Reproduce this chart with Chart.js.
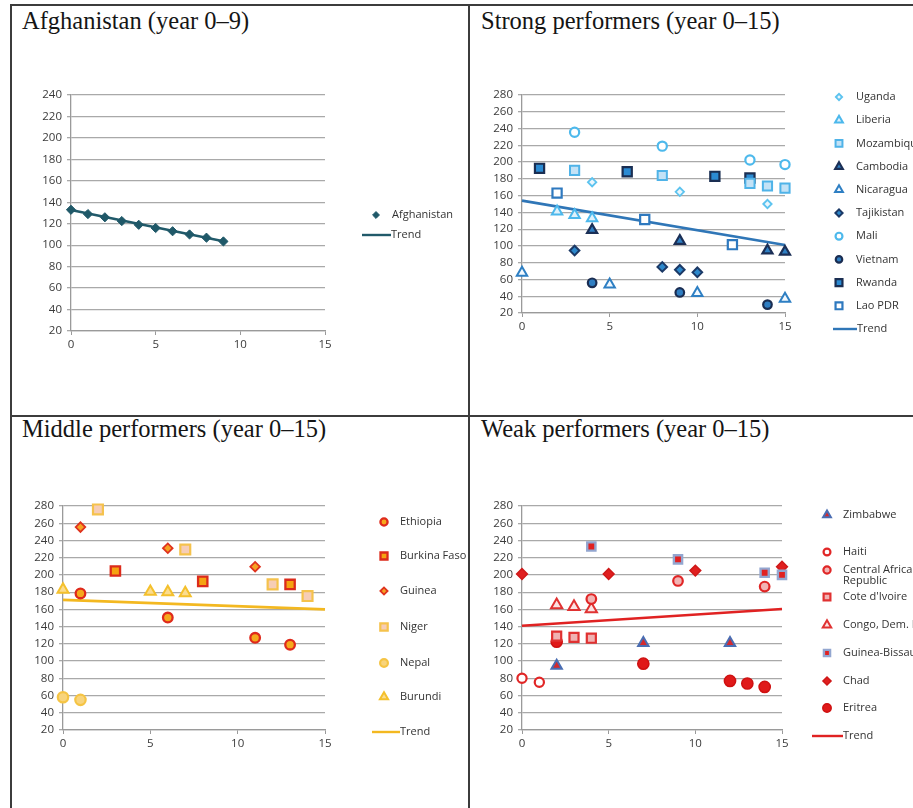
<!DOCTYPE html>
<html>
<head>
<meta charset="utf-8">
<script src="https://cdn.jsdelivr.net/npm/chart.js@4.4.1/dist/chart.umd.min.js"></script>
<style>
body { margin: 0; width: 913px; height: 808px; overflow: hidden; background: #fff; position: relative; }
.rule { position: absolute; background: #3c3c3c; }
.title { position: absolute; font-family: "Liberation Serif", "Times New Roman", serif; font-size: 24.5px; line-height: 24.5px; color: #151515; white-space: nowrap; }
canvas { position: absolute; }
</style>
</head>
<body>
<div class="rule" style="left:10px;top:4px;width:2px;height:820px"></div>
<div class="rule" style="left:10px;top:4px;width:920px;height:2px"></div>
<div class="rule" style="left:468px;top:4px;width:2px;height:820px"></div>
<div class="rule" style="left:10px;top:415px;width:920px;height:2px"></div>

<div class="title" style="left:22px;top:9px">Afghanistan (year 0–9)</div>
<div class="title" style="left:481px;top:9px">Strong performers (year 0–15)</div>
<div class="title" style="left:22px;top:417px">Middle performers (year 0–15)</div>
<div class="title" style="left:481px;top:417px">Weak performers (year 0–15)</div>

<canvas id="afghan"></canvas>
<canvas id="strong"></canvas>
<canvas id="middle"></canvas>
<canvas id="weak"></canvas>

<script>
// ---- data ----
const xTicks = [0, 5, 10, 15];

// Afghanistan
const afghanYears = [0, 1, 2, 3, 4, 5, 6, 7, 8, 9];
const afghanValues = [133, 129, 126, 122.5, 119, 116, 113, 110, 107, 103.5];
const afghanTrendX = [0, 9];
const afghanTrendY = [132.8, 103.6];

// Strong performers
const strongLabels = ['Uganda', 'Liberia', 'Mozambique', 'Cambodia', 'Nicaragua', 'Tajikistan', 'Mali', 'Vietnam', 'Rwanda', 'Lao PDR', 'Trend'];
const ugandaX = [4, 9, 14];          const ugandaY = [176, 164.5, 150];
const liberiaX = [2, 3, 4];          const liberiaY = [141, 137, 133];
const mozambiqueX = [3, 8, 13, 14, 15]; const mozambiqueY = [190, 184, 174.5, 171.5, 169];
const cambodiaX = [4, 9, 14, 15];    const cambodiaY = [119, 106, 94.5, 93];
const nicaraguaX = [0, 5, 10, 15];   const nicaraguaY = [68, 54, 44, 37];
const tajikistanX = [3, 8, 9, 10];   const tajikistanY = [94.5, 75, 71.5, 68.5];
const maliX = [3, 8, 13, 15];        const maliY = [235.5, 219, 202.5, 197];
const vietnamX = [4, 9, 14];         const vietnamY = [56, 44.5, 30];
const rwandaX = [1, 6, 11, 13];      const rwandaY = [192.5, 188.5, 183, 181];
const laoX = [2, 7, 12];             const laoY = [163, 131.5, 101.5];
const strongTrendX = [0, 15];        const strongTrendY = [154, 101];

// Middle performers
const middleLabels = ['Ethiopia', 'Burkina Faso', 'Guinea', 'Niger', 'Nepal', 'Burundi', 'Trend'];
const ethiopiaX = [1, 6, 11, 13];    const ethiopiaY = [178.5, 150.5, 127, 119];
const burkinaX = [3, 8, 13];         const burkinaY = [204.5, 192.5, 189];
const guineaX = [1, 6, 11];          const guineaY = [255.5, 231, 209.5];
const nigerX = [2, 7, 12, 14];       const nigerY = [276, 229.5, 189, 175.5];
const nepalX = [0, 1];               const nepalY = [58, 55];
const burundiX = [0, 5, 6, 7];       const burundiY = [183, 180.5, 180, 179];
const middleTrendX = [0, 15];        const middleTrendY = [171, 160];

// Weak performers
const weakLabels = ['Zimbabwe', 'Haiti', 'Central African\nRepublic', "Cote d'Ivoire", 'Congo, Dem. Rep.', 'Guinea-Bissau', 'Chad', 'Eritrea', 'Trend'];
const zimbabweX = [2, 7, 12];        const zimbabweY = [94.5, 121, 121];
const haitiX = [0, 1];               const haitiY = [80, 75.5];
const carX = [4, 9, 14];             const carY = [172, 193, 186.5];
const coteX = [2, 3, 4];             const coteY = [129, 127.5, 126.5];
const congoX = [2, 3, 4];            const congoY = [165, 163, 160.5];
const guineaBissauX = [4, 9, 14, 15]; const guineaBissauY = [233, 218, 202.5, 200];
const chadX = [0, 5, 10, 15];        const chadY = [201, 201, 205, 209.5];
const eritreaX = [2, 7, 12, 13, 14]; const eritreaY = [122.5, 97, 77, 74, 70];
const weakTrendX = [0, 15];          const weakTrendY = [141, 160.5];

// ---- helpers ----
function pts(xs, ys) {
    return xs.map((x, i) => ({ x: x, y: ys[i] }));
}

function marker(label, xs, ys, style, bg, border, radius, bw) {
    return {
        label: label,
        data: pts(xs, ys),
        pointStyle: style,
        backgroundColor: bg,
        borderColor: border,
        pointRadius: radius,
        pointHoverRadius: radius,
        pointBorderWidth: bw || 2,
        showLine: false,
        clip: false
    };
}

function trend(xs, ys, color) {
    return {
        label: 'Trend',
        data: pts(xs, ys),
        borderColor: color,
        backgroundColor: color,
        borderWidth: 2.6,
        pointRadius: 0,
        showLine: true,
        isTrend: true,
        clip: false
    };
}

// legend drawn next to the plot, like the spreadsheet one
const panelLegend = {
    id: 'panelLegend',
    afterDraw(chart, args, opts) {
        if (!opts.ys) return;
        const ctx = chart.ctx;
        ctx.save();
        ctx.font = '11px "Open Sans", sans-serif';
        ctx.textBaseline = 'middle';
        chart.data.datasets.forEach((ds, i) => {
            const y = opts.ys[i];
            if (ds.isTrend) {
                ctx.strokeStyle = ds.borderColor;
                ctx.lineWidth = 2.4;
                ctx.beginPath();
                ctx.moveTo(opts.lineX0, y);
                ctx.lineTo(opts.lineX1, y);
                ctx.stroke();
            } else {
                ctx.fillStyle = ds.backgroundColor;
                ctx.strokeStyle = ds.borderColor;
                ctx.lineWidth = ds.pointBorderWidth;
                Chart.helpers.drawPoint(ctx, {
                    pointStyle: ds.pointStyle,
                    radius: ds.pointRadius * 0.75,
                    rotation: 0,
                    borderWidth: ds.pointBorderWidth
                }, opts.markerX, y);
            }
            ctx.fillStyle = '#333';
            const tx = ds.isTrend ? opts.lineX1 : opts.textX;
            ds.label.split('\n').forEach((line, k) => {
                ctx.fillText(line, tx, y + k * 11);
            });
        });
        ctx.restore();
    }
};

function makePanel(id, frame, plot, yMax, datasets, legend) {
    const canvas = document.getElementById(id);
    canvas.width = frame.w;
    canvas.height = frame.h;
    canvas.style.left = frame.l + 'px';
    canvas.style.top = frame.t + 'px';

    const yAxisW = 42;
    const xAxisH = 24;
    const ox = frame.l, oy = frame.t;

    new Chart(canvas.getContext('2d'), {
        type: 'scatter',
        data: { datasets: datasets },
        options: {
            responsive: false,
            animation: false,
            events: [],
            layout: {
                padding: {
                    left: plot.l - ox - yAxisW,
                    top: plot.t - oy,
                    right: ox + frame.w - plot.r,
                    bottom: oy + frame.h - plot.b - xAxisH
                }
            },
            plugins: {
                legend: { display: false },
                tooltip: { enabled: false },
                panelLegend: {
                    ys: legend.ys.map(v => v - oy),
                    markerX: legend.markerX - ox,
                    textX: legend.textX - ox,
                    lineX0: legend.lineX0 - ox,
                    lineX1: legend.lineX1 - ox
                }
            },
            scales: {
                x: {
                    type: 'linear',
                    min: 0,
                    max: 15,
                    afterBuildTicks: s => { s.ticks = xTicks.map(v => ({ value: v })); },
                    afterFit: s => { s.height = xAxisH; },
                    ticks: { autoSkip: false, maxRotation: 0, color: '#3a3a3a', font: { family: '"Open Sans", sans-serif', size: 11.5 }, padding: 3 },
                    grid: { drawOnChartArea: false, drawTicks: true, tickLength: 4, color: '#9a9a9a' },
                    border: { color: '#9a9a9a', width: 1.3 }
                },
                y: {
                    min: 20,
                    max: yMax,
                    afterFit: s => { s.width = yAxisW; },
                    ticks: { autoSkip: false, stepSize: 20, color: '#3a3a3a', font: { family: '"Open Sans", sans-serif', size: 11.5 }, padding: 5 },
                    grid: { color: '#a9a9a9', lineWidth: 1.3, tickLength: 4 },
                    border: { color: '#9a9a9a', width: 1.3 }
                }
            }
        },
        plugins: [panelLegend]
    });
}

function spaced(start, step, n) {
    const out = [];
    for (let i = 0; i < n; i++) out.push(start + i * step);
    return out;
}

// ---- Afghanistan ----
makePanel('afghan',
    { l: 12, t: 40, w: 455, h: 372 },
    { l: 71, t: 95, r: 325, b: 331 },
    240,
    [
        marker('Afghanistan', afghanYears, afghanValues, 'rectRot', '#1f5868', '#1f5868', 4.6, 1),
        trend(afghanTrendX, afghanTrendY, '#215a6a')
    ],
    { markerX: 376, textX: 392, lineX0: 362, lineX1: 391, ys: [215, 235] }
);

// ---- Strong performers ----
makePanel('strong',
    { l: 471, t: 40, w: 520, h: 372 },
    { l: 522, t: 95, r: 785, b: 313 },
    280,
    [
        marker(strongLabels[0], ugandaX, ugandaY, 'rectRot', '#eaf6fd', '#5cc3ef', 4.2, 1.8),
        marker(strongLabels[1], liberiaX, liberiaY, 'triangle', '#dff1fb', '#4cb8ec', 6, 2),
        marker(strongLabels[2], mozambiqueX, mozambiqueY, 'rect', '#c3e2f6', '#4fb3e8', 6.5, 2),
        marker(strongLabels[3], cambodiaX, cambodiaY, 'triangle', '#2f80c4', '#1b2f56', 5.8, 2.2),
        marker(strongLabels[4], nicaraguaX, nicaraguaY, 'triangle', '#f2f9ff', '#2e7fc3', 6, 2),
        marker(strongLabels[5], tajikistanX, tajikistanY, 'rectRot', '#2d88cb', '#1c3966', 4.8, 2),
        marker(strongLabels[6], maliX, maliY, 'circle', '#ffffff', '#4db9ec', 4.6, 2.2),
        marker(strongLabels[7], vietnamX, vietnamY, 'circle', '#2f7ec2', '#1a2d52', 4.3, 2.2),
        marker(strongLabels[8], rwandaX, rwandaY, 'rect', '#2b8bd3', '#1a2e52', 6.5, 2.2),
        marker(strongLabels[9], laoX, laoY, 'rect', '#ffffff', '#2e79bf', 6.5, 2.2),
        trend(strongTrendX, strongTrendY, '#2f76b7')
    ],
    { markerX: 839, textX: 856, lineX0: 833, lineX1: 857, ys: spaced(97, 23.2, 11) }
);

// ---- Middle performers ----
makePanel('middle',
    { l: 12, t: 450, w: 455, h: 358 },
    { l: 63, t: 506, r: 325, b: 730 },
    280,
    [
        marker(middleLabels[0], ethiopiaX, ethiopiaY, 'circle', '#f6a91c', '#df2a1c', 4.8, 2.3),
        marker(middleLabels[1], burkinaX, burkinaY, 'rect', '#f5a312', '#dc2b1b', 6.6, 2.3),
        marker(middleLabels[2], guineaX, guineaY, 'rectRot', '#f6a223', '#df321e', 4.8, 1.8),
        marker(middleLabels[3], nigerX, nigerY, 'rect', '#f6cdb6', '#f5c24c', 7, 2.2),
        marker(middleLabels[4], nepalX, nepalY, 'circle', '#f8d47c', '#f5c444', 5.2, 2.2),
        marker(middleLabels[5], burundiX, burundiY, 'triangle', '#fbdc8f', '#f4c02c', 6.3, 2),
        trend(middleTrendX, middleTrendY, '#f3b820')
    ],
    { markerX: 384, textX: 400, lineX0: 372, lineX1: 400, ys: [522, 556, 591, 627, 663, 697, 732] }
);

// ---- Weak performers ----
makePanel('weak',
    { l: 471, t: 450, w: 520, h: 358 },
    { l: 522, t: 506, r: 782, b: 730 },
    280,
    [
        marker(weakLabels[0], zimbabweX, zimbabweY, 'triangle', '#d42a2e', '#4a6db2', 6, 2),
        marker(weakLabels[1], haitiX, haitiY, 'circle', '#ffffff', '#e12626', 4.6, 2.2),
        marker(weakLabels[2], carX, carY, 'circle', '#f2b4b4', '#e02626', 4.8, 2.2),
        marker(weakLabels[3], coteX, coteY, 'rect', '#f0b2b2', '#e03131', 6.4, 2.2),
        marker(weakLabels[4], congoX, congoY, 'triangle', '#fbe2e2', '#e03232', 6.5, 2),
        marker(weakLabels[5], guineaBissauX, guineaBissauY, 'rect', '#e12121', '#93a6d0', 5.8, 2.4),
        marker(weakLabels[6], chadX, chadY, 'rectRot', '#e01f1f', '#cf1818', 5.4, 1.5),
        marker(weakLabels[7], eritreaX, eritreaY, 'circle', '#e01919', '#cf1111', 5.6, 1.5),
        trend(weakTrendX, weakTrendY, '#e02222')
    ],
    { markerX: 827, textX: 843, lineX0: 812, lineX1: 843, ys: [515, 552, 570, 597, 625, 653, 681, 708, 736] }
);
</script>
</body>
</html>
